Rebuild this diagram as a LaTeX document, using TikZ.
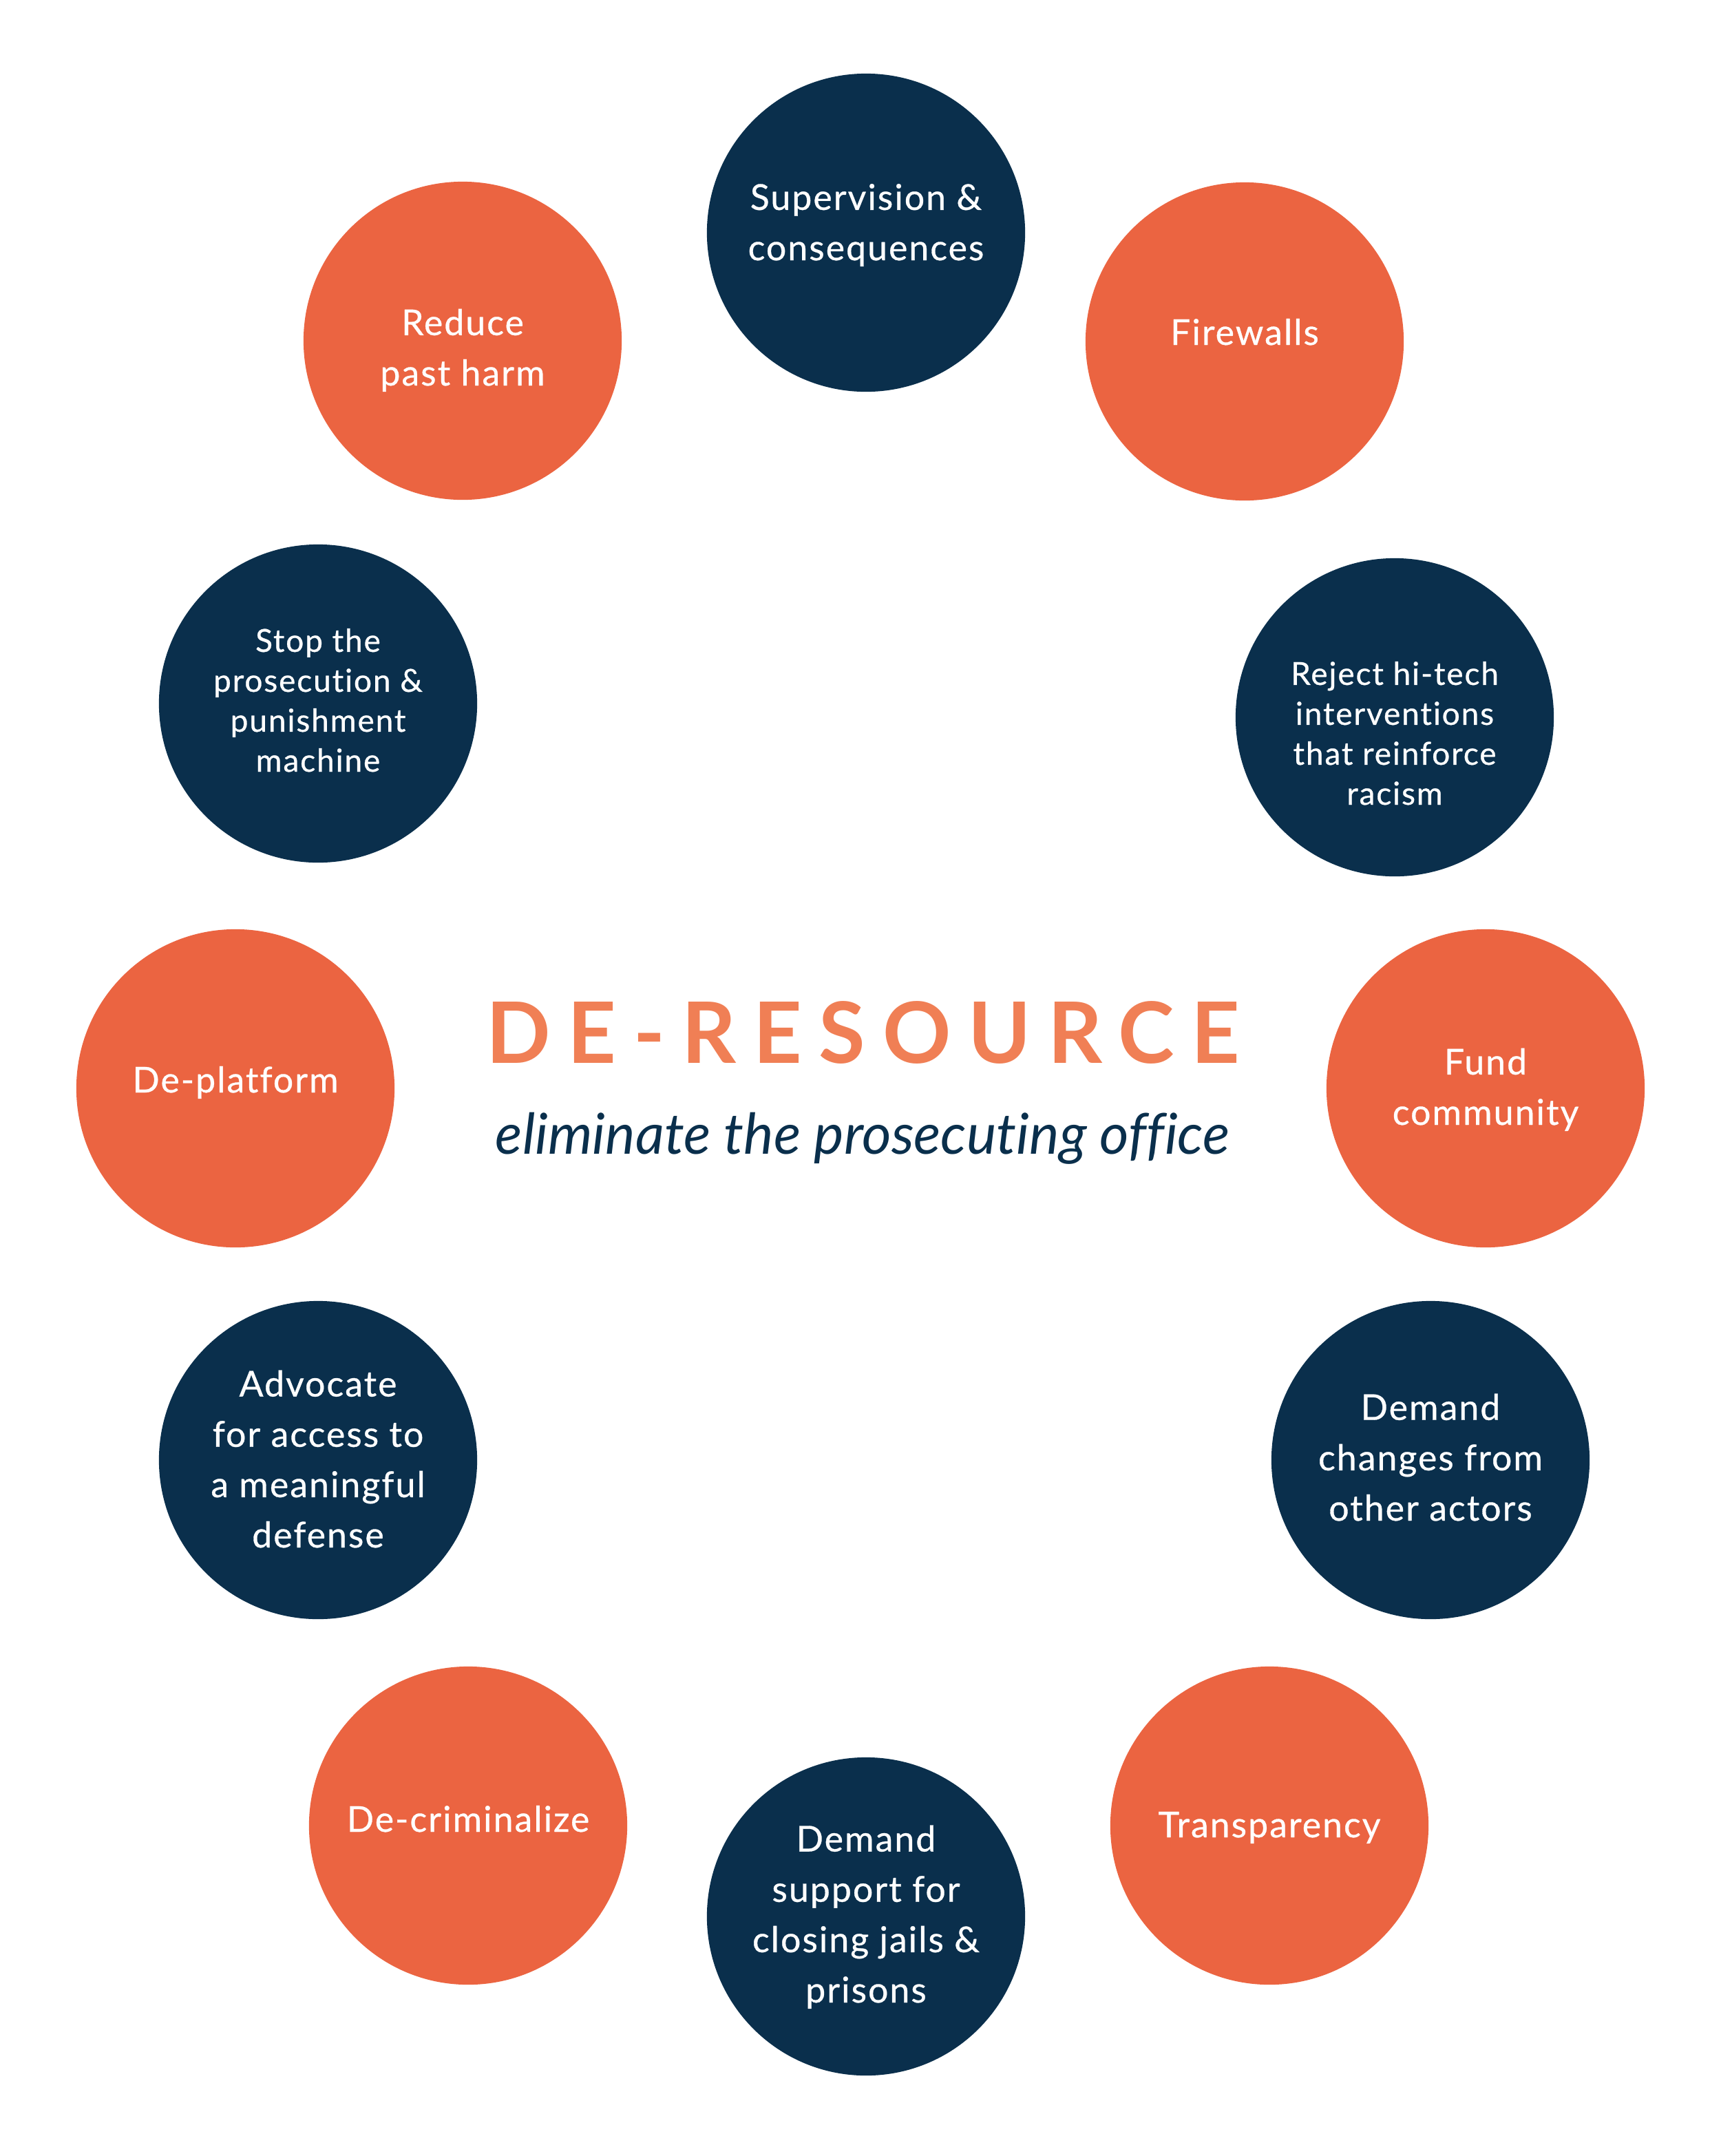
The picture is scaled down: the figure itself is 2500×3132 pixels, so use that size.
\documentclass[tikz,border=0pt]{standalone}
\usepackage{fontspec}
\setmainfont{Lato}[Ligatures=NoCommon]
\newfontfamily\circfont{Lato}[LetterSpace=4,FakeBold=0.6,Ligatures=NoCommon]
\newfontfamily\titlefont{Lato}[LetterSpace=20]
\usepackage{xcolor}
\definecolor{navy}{HTML}{0A2F4C}
\definecolor{coral}{HTML}{EB6441}
\definecolor{titleorange}{HTML}{F07F55}

\begin{document}
\begin{tikzpicture}[x=0.01cm,y=-0.01cm,
  disc/.style={circle,minimum size=4.62cm,inner sep=0pt},
  navydisc/.style={disc,fill=navy},
  coraldisc/.style={disc,fill=coral},
  lbl/.style={white,align=center,anchor=base,font=\circfont\fontsize{14.7}{20.8}\selectfont},
  lblsmall/.style={lbl,font=\circfont\fontsize{13.1}{16.5}\selectfont}]
  \useasboundingbox (0,0) rectangle (2500,3132);
  % cerchi
  \node[navydisc]  (sup)    at (1258,338)  {};
  \node[coraldisc] (fire)   at (1808,496)  {};
  \node[navydisc]  (reject) at (2026,1042) {};
  \node[coraldisc] (fund)   at (2158,1581) {};
  \node[navydisc]  (actors) at (2078,2121) {};
  \node[coraldisc] (transp) at (1844,2652) {};
  \node[navydisc]  (jails)  at (1258,2784) {};
  \node[coraldisc] (decrim) at (680,2652)  {};
  \node[navydisc]  (advoc)  at (462,2121)  {};
  \node[coraldisc] (deplat) at (342,1581)  {};
  \node[navydisc]  (stop)   at (462,1022)  {};
  \node[coraldisc] (harm)   at (672,495)   {};
  % testi (ancorati alla base dell'ultima riga)
  \node[lbl] (supt) at (1258,378) {Supervision \&\\consequences};
  \node[lbl] (firet) at (1808,501) {Firewalls};
  \node[lblsmall] (rejectt) at (2026,1169) {Reject hi-tech\\interventions\\that reinforce\\racism};
  \node[lbl] (fundt) at (2158,1634) {Fund\\community};
  \node[lbl] (actorst) at (2078,2209) {Demand\\changes from\\other actors};
  \node[lbl] (transpt) at (1844,2669) {Transparency};
  \node[lbl] (jailst) at (1258,2909) {Demand\\support for\\closing jails \&\\prisons};
  \node[lbl] (decrimt) at (680,2661) {De-criminalize};
  \node[lbl] (advoct) at (462,2248) {Advocate\\for access to\\a meaningful\\defense};
  \node[lbl] (deplatt) at (342,1587) {De-platform};
  \node[lblsmall] (stopt) at (462,1121) {Stop the\\prosecution \&\\punishment\\machine};
  \node[lbl] (harmt) at (672,560) {Reduce\\past harm};
  % titolo
  \node[titleorange,anchor=base,font=\titlefont\bfseries\fontsize{35}{42}\selectfont] (title) at (1254,1544) {DE-RESOURCE};
  \node[navy,anchor=base,font=\itshape\fontsize{23.3}{28}\selectfont] (subtitle) at (1253,1676) {eliminate the prosecuting office};
\end{tikzpicture}
\end{document}
